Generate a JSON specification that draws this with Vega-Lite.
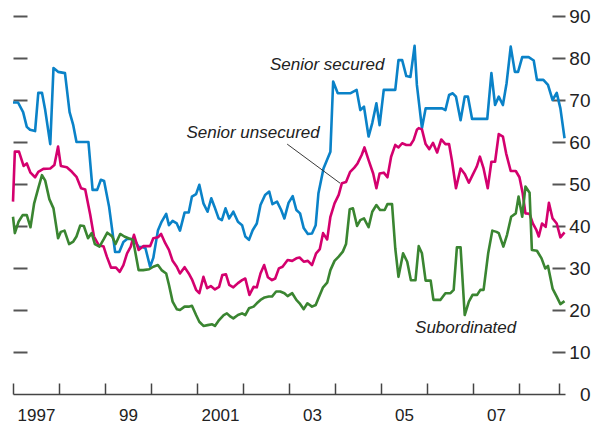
{
  "$schema": "https://vega.github.io/schema/vega-lite/v6.json",
  "width": 552,
  "height": 378,
  "autosize": {"type": "none"},
  "padding": {"left": 13, "top": 16, "right": 31, "bottom": 29},
  "config": {
    "view": {"stroke": null},
    "font": "Liberation Sans, Arial, sans-serif"
  },
  "datasets": {
    "spreads": [
      {"series":"Senior secured","year":1997.00,"value":69.4},
      {"series":"Senior secured","year":1997.11,"value":69.4},
      {"series":"Senior secured","year":1997.22,"value":67.1},
      {"series":"Senior secured","year":1997.30,"value":63.6},
      {"series":"Senior secured","year":1997.37,"value":62.9},
      {"series":"Senior secured","year":1997.48,"value":62.6},
      {"series":"Senior secured","year":1997.55,"value":71.7},
      {"series":"Senior secured","year":1997.63,"value":71.7},
      {"series":"Senior secured","year":1997.70,"value":67.6},
      {"series":"Senior secured","year":1997.81,"value":59.5},
      {"series":"Senior secured","year":1997.88,"value":77.6},
      {"series":"Senior secured","year":1997.98,"value":76.7},
      {"series":"Senior secured","year":1998.13,"value":76.4},
      {"series":"Senior secured","year":1998.23,"value":67.1},
      {"series":"Senior secured","year":1998.31,"value":64.0},
      {"series":"Senior secured","year":1998.38,"value":60.0},
      {"series":"Senior secured","year":1998.64,"value":60.0},
      {"series":"Senior secured","year":1998.73,"value":48.6},
      {"series":"Senior secured","year":1998.83,"value":48.6},
      {"series":"Senior secured","year":1998.91,"value":51.0},
      {"series":"Senior secured","year":1998.98,"value":50.7},
      {"series":"Senior secured","year":1999.09,"value":44.5},
      {"series":"Senior secured","year":1999.22,"value":33.8},
      {"series":"Senior secured","year":1999.31,"value":33.8},
      {"series":"Senior secured","year":1999.40,"value":36.2},
      {"series":"Senior secured","year":1999.48,"value":36.9},
      {"series":"Senior secured","year":1999.63,"value":36.9},
      {"series":"Senior secured","year":1999.73,"value":35.0},
      {"series":"Senior secured","year":1999.82,"value":35.0},
      {"series":"Senior secured","year":1999.88,"value":34.7},
      {"series":"Senior secured","year":1999.98,"value":30.3},
      {"series":"Senior secured","year":2000.05,"value":32.4},
      {"series":"Senior secured","year":2000.15,"value":38.9},
      {"series":"Senior secured","year":2000.23,"value":41.0},
      {"series":"Senior secured","year":2000.33,"value":42.9},
      {"series":"Senior secured","year":2000.39,"value":40.2},
      {"series":"Senior secured","year":2000.47,"value":41.2},
      {"series":"Senior secured","year":2000.56,"value":40.6},
      {"series":"Senior secured","year":2000.63,"value":38.9},
      {"series":"Senior secured","year":2000.73,"value":43.2},
      {"series":"Senior secured","year":2000.82,"value":43.2},
      {"series":"Senior secured","year":2000.89,"value":47.0},
      {"series":"Senior secured","year":2000.98,"value":47.6},
      {"series":"Senior secured","year":2001.05,"value":49.8},
      {"series":"Senior secured","year":2001.14,"value":45.4},
      {"series":"Senior secured","year":2001.23,"value":43.4},
      {"series":"Senior secured","year":2001.31,"value":46.6},
      {"series":"Senior secured","year":2001.38,"value":44.6},
      {"series":"Senior secured","year":2001.47,"value":41.8},
      {"series":"Senior secured","year":2001.54,"value":41.4},
      {"series":"Senior secured","year":2001.62,"value":44.2},
      {"series":"Senior secured","year":2001.70,"value":41.8},
      {"series":"Senior secured","year":2001.79,"value":43.4},
      {"series":"Senior secured","year":2001.89,"value":41.0},
      {"series":"Senior secured","year":2001.98,"value":40.2},
      {"series":"Senior secured","year":2002.05,"value":37.5},
      {"series":"Senior secured","year":2002.13,"value":36.7},
      {"series":"Senior secured","year":2002.21,"value":39.0},
      {"series":"Senior secured","year":2002.30,"value":40.6},
      {"series":"Senior secured","year":2002.38,"value":45.0},
      {"series":"Senior secured","year":2002.48,"value":47.4},
      {"series":"Senior secured","year":2002.57,"value":48.2},
      {"series":"Senior secured","year":2002.64,"value":45.2},
      {"series":"Senior secured","year":2002.74,"value":45.8},
      {"series":"Senior secured","year":2002.83,"value":43.8},
      {"series":"Senior secured","year":2002.90,"value":41.8},
      {"series":"Senior secured","year":2002.99,"value":45.5},
      {"series":"Senior secured","year":2003.08,"value":47.1},
      {"series":"Senior secured","year":2003.16,"value":43.8},
      {"series":"Senior secured","year":2003.24,"value":43.0},
      {"series":"Senior secured","year":2003.32,"value":39.5},
      {"series":"Senior secured","year":2003.41,"value":38.1},
      {"series":"Senior secured","year":2003.50,"value":38.2},
      {"series":"Senior secured","year":2003.58,"value":40.2},
      {"series":"Senior secured","year":2003.64,"value":47.8},
      {"series":"Senior secured","year":2003.75,"value":53.7},
      {"series":"Senior secured","year":2003.90,"value":57.7},
      {"series":"Senior secured","year":2003.96,"value":74.4},
      {"series":"Senior secured","year":2004.06,"value":71.6},
      {"series":"Senior secured","year":2004.33,"value":71.6},
      {"series":"Senior secured","year":2004.47,"value":72.4},
      {"series":"Senior secured","year":2004.55,"value":67.6},
      {"series":"Senior secured","year":2004.63,"value":68.4},
      {"series":"Senior secured","year":2004.73,"value":61.3},
      {"series":"Senior secured","year":2004.81,"value":64.5},
      {"series":"Senior secured","year":2004.90,"value":69.2},
      {"series":"Senior secured","year":2004.97,"value":64.0},
      {"series":"Senior secured","year":2005.06,"value":72.4},
      {"series":"Senior secured","year":2005.31,"value":72.4},
      {"series":"Senior secured","year":2005.38,"value":79.5},
      {"series":"Senior secured","year":2005.46,"value":79.5},
      {"series":"Senior secured","year":2005.55,"value":75.7},
      {"series":"Senior secured","year":2005.64,"value":75.5},
      {"series":"Senior secured","year":2005.73,"value":82.9},
      {"series":"Senior secured","year":2005.78,"value":73.6},
      {"series":"Senior secured","year":2005.89,"value":63.3},
      {"series":"Senior secured","year":2005.97,"value":68.0},
      {"series":"Senior secured","year":2006.33,"value":68.0},
      {"series":"Senior secured","year":2006.40,"value":67.6},
      {"series":"Senior secured","year":2006.48,"value":71.2},
      {"series":"Senior secured","year":2006.56,"value":71.6},
      {"series":"Senior secured","year":2006.63,"value":70.8},
      {"series":"Senior secured","year":2006.73,"value":65.2},
      {"series":"Senior secured","year":2006.82,"value":70.8},
      {"series":"Senior secured","year":2006.89,"value":70.8},
      {"series":"Senior secured","year":2006.98,"value":65.5},
      {"series":"Senior secured","year":2007.31,"value":65.5},
      {"series":"Senior secured","year":2007.40,"value":76.4},
      {"series":"Senior secured","year":2007.48,"value":68.8},
      {"series":"Senior secured","year":2007.56,"value":70.8},
      {"series":"Senior secured","year":2007.65,"value":68.8},
      {"series":"Senior secured","year":2007.73,"value":74.0},
      {"series":"Senior secured","year":2007.82,"value":82.7},
      {"series":"Senior secured","year":2007.91,"value":76.7},
      {"series":"Senior secured","year":2007.98,"value":76.7},
      {"series":"Senior secured","year":2008.07,"value":80.2},
      {"series":"Senior secured","year":2008.21,"value":80.2},
      {"series":"Senior secured","year":2008.32,"value":79.4},
      {"series":"Senior secured","year":2008.39,"value":74.8},
      {"series":"Senior secured","year":2008.53,"value":74.8},
      {"series":"Senior secured","year":2008.63,"value":73.6},
      {"series":"Senior secured","year":2008.73,"value":70.0},
      {"series":"Senior secured","year":2008.82,"value":71.7},
      {"series":"Senior secured","year":2008.90,"value":68.0},
      {"series":"Senior secured","year":2008.99,"value":60.9},

      {"series":"Senior unsecured","year":1997.00,"value":45.8},
      {"series":"Senior unsecured","year":1997.04,"value":57.7},
      {"series":"Senior unsecured","year":1997.13,"value":57.7},
      {"series":"Senior unsecured","year":1997.23,"value":54.3},
      {"series":"Senior unsecured","year":1997.30,"value":54.9},
      {"series":"Senior unsecured","year":1997.38,"value":52.7},
      {"series":"Senior unsecured","year":1997.48,"value":51.6},
      {"series":"Senior unsecured","year":1997.55,"value":52.9},
      {"series":"Senior unsecured","year":1997.66,"value":53.6},
      {"series":"Senior unsecured","year":1997.81,"value":53.7},
      {"series":"Senior unsecured","year":1997.90,"value":54.5},
      {"series":"Senior unsecured","year":1997.98,"value":58.9},
      {"series":"Senior unsecured","year":1998.04,"value":54.3},
      {"series":"Senior unsecured","year":1998.17,"value":54.0},
      {"series":"Senior unsecured","year":1998.28,"value":52.9},
      {"series":"Senior unsecured","year":1998.38,"value":51.7},
      {"series":"Senior unsecured","year":1998.48,"value":49.0},
      {"series":"Senior unsecured","year":1998.57,"value":48.7},
      {"series":"Senior unsecured","year":1998.68,"value":42.6},
      {"series":"Senior unsecured","year":1998.76,"value":37.5},
      {"series":"Senior unsecured","year":1998.86,"value":35.5},
      {"series":"Senior unsecured","year":1998.97,"value":35.1},
      {"series":"Senior unsecured","year":1999.04,"value":32.7},
      {"series":"Senior unsecured","year":1999.13,"value":30.1},
      {"series":"Senior unsecured","year":1999.24,"value":30.1},
      {"series":"Senior unsecured","year":1999.32,"value":29.1},
      {"series":"Senior unsecured","year":1999.40,"value":30.7},
      {"series":"Senior unsecured","year":1999.48,"value":33.5},
      {"series":"Senior unsecured","year":1999.56,"value":35.1},
      {"series":"Senior unsecured","year":1999.63,"value":37.9},
      {"series":"Senior unsecured","year":1999.73,"value":34.3},
      {"series":"Senior unsecured","year":1999.83,"value":35.2},
      {"series":"Senior unsecured","year":1999.98,"value":35.2},
      {"series":"Senior unsecured","year":2000.05,"value":37.1},
      {"series":"Senior unsecured","year":2000.15,"value":37.3},
      {"series":"Senior unsecured","year":2000.22,"value":38.1},
      {"series":"Senior unsecured","year":2000.31,"value":35.9},
      {"series":"Senior unsecured","year":2000.39,"value":34.3},
      {"series":"Senior unsecured","year":2000.47,"value":31.7},
      {"series":"Senior unsecured","year":2000.56,"value":30.3},
      {"series":"Senior unsecured","year":2000.63,"value":28.7},
      {"series":"Senior unsecured","year":2000.73,"value":30.2},
      {"series":"Senior unsecured","year":2000.82,"value":28.7},
      {"series":"Senior unsecured","year":2000.89,"value":27.3},
      {"series":"Senior unsecured","year":2000.98,"value":24.8},
      {"series":"Senior unsecured","year":2001.05,"value":24.0},
      {"series":"Senior unsecured","year":2001.14,"value":27.9},
      {"series":"Senior unsecured","year":2001.22,"value":25.2},
      {"series":"Senior unsecured","year":2001.30,"value":25.7},
      {"series":"Senior unsecured","year":2001.39,"value":24.9},
      {"series":"Senior unsecured","year":2001.48,"value":25.5},
      {"series":"Senior unsecured","year":2001.55,"value":28.3},
      {"series":"Senior unsecured","year":2001.63,"value":28.5},
      {"series":"Senior unsecured","year":2001.70,"value":26.0},
      {"series":"Senior unsecured","year":2001.79,"value":25.4},
      {"series":"Senior unsecured","year":2001.89,"value":26.4},
      {"series":"Senior unsecured","year":2001.98,"value":27.1},
      {"series":"Senior unsecured","year":2002.05,"value":27.5},
      {"series":"Senior unsecured","year":2002.14,"value":23.6},
      {"series":"Senior unsecured","year":2002.23,"value":25.5},
      {"series":"Senior unsecured","year":2002.30,"value":25.4},
      {"series":"Senior unsecured","year":2002.38,"value":28.7},
      {"series":"Senior unsecured","year":2002.46,"value":30.7},
      {"series":"Senior unsecured","year":2002.54,"value":27.8},
      {"series":"Senior unsecured","year":2002.63,"value":27.1},
      {"series":"Senior unsecured","year":2002.70,"value":27.5},
      {"series":"Senior unsecured","year":2002.78,"value":29.9},
      {"series":"Senior unsecured","year":2002.86,"value":30.3},
      {"series":"Senior unsecured","year":2002.97,"value":31.9},
      {"series":"Senior unsecured","year":2003.07,"value":31.7},
      {"series":"Senior unsecured","year":2003.16,"value":32.3},
      {"series":"Senior unsecured","year":2003.23,"value":32.5},
      {"series":"Senior unsecured","year":2003.32,"value":31.5},
      {"series":"Senior unsecured","year":2003.41,"value":31.7},
      {"series":"Senior unsecured","year":2003.50,"value":30.7},
      {"series":"Senior unsecured","year":2003.59,"value":33.5},
      {"series":"Senior unsecured","year":2003.67,"value":34.5},
      {"series":"Senior unsecured","year":2003.74,"value":38.3},
      {"series":"Senior unsecured","year":2003.83,"value":36.8},
      {"series":"Senior unsecured","year":2003.90,"value":42.2},
      {"series":"Senior unsecured","year":2003.99,"value":45.4},
      {"series":"Senior unsecured","year":2004.08,"value":47.4},
      {"series":"Senior unsecured","year":2004.15,"value":50.2},
      {"series":"Senior unsecured","year":2004.24,"value":50.5},
      {"series":"Senior unsecured","year":2004.33,"value":52.9},
      {"series":"Senior unsecured","year":2004.42,"value":53.9},
      {"series":"Senior unsecured","year":2004.49,"value":54.9},
      {"series":"Senior unsecured","year":2004.58,"value":56.9},
      {"series":"Senior unsecured","year":2004.64,"value":58.7},
      {"series":"Senior unsecured","year":2004.73,"value":55.7},
      {"series":"Senior unsecured","year":2004.83,"value":52.5},
      {"series":"Senior unsecured","year":2004.90,"value":49.0},
      {"series":"Senior unsecured","year":2004.97,"value":52.5},
      {"series":"Senior unsecured","year":2005.06,"value":52.7},
      {"series":"Senior unsecured","year":2005.14,"value":51.6},
      {"series":"Senior unsecured","year":2005.22,"value":56.5},
      {"series":"Senior unsecured","year":2005.31,"value":59.3},
      {"series":"Senior unsecured","year":2005.38,"value":58.7},
      {"series":"Senior unsecured","year":2005.46,"value":59.7},
      {"series":"Senior unsecured","year":2005.55,"value":59.3},
      {"series":"Senior unsecured","year":2005.64,"value":59.3},
      {"series":"Senior unsecured","year":2005.71,"value":60.5},
      {"series":"Senior unsecured","year":2005.78,"value":62.9},
      {"series":"Senior unsecured","year":2005.82,"value":63.3},
      {"series":"Senior unsecured","year":2005.89,"value":63.0},
      {"series":"Senior unsecured","year":2005.97,"value":59.5},
      {"series":"Senior unsecured","year":2006.05,"value":58.3},
      {"series":"Senior unsecured","year":2006.13,"value":59.8},
      {"series":"Senior unsecured","year":2006.22,"value":57.5},
      {"series":"Senior unsecured","year":2006.31,"value":60.6},
      {"series":"Senior unsecured","year":2006.40,"value":59.5},
      {"series":"Senior unsecured","year":2006.48,"value":59.5},
      {"series":"Senior unsecured","year":2006.54,"value":55.7},
      {"series":"Senior unsecured","year":2006.63,"value":49.0},
      {"series":"Senior unsecured","year":2006.73,"value":53.7},
      {"series":"Senior unsecured","year":2006.82,"value":52.4},
      {"series":"Senior unsecured","year":2006.91,"value":50.3},
      {"series":"Senior unsecured","year":2006.99,"value":52.1},
      {"series":"Senior unsecured","year":2007.08,"value":54.1},
      {"series":"Senior unsecured","year":2007.15,"value":56.5},
      {"series":"Senior unsecured","year":2007.23,"value":53.7},
      {"series":"Senior unsecured","year":2007.32,"value":49.0},
      {"series":"Senior unsecured","year":2007.40,"value":55.3},
      {"series":"Senior unsecured","year":2007.48,"value":55.3},
      {"series":"Senior unsecured","year":2007.56,"value":61.9},
      {"series":"Senior unsecured","year":2007.65,"value":61.3},
      {"series":"Senior unsecured","year":2007.72,"value":57.3},
      {"series":"Senior unsecured","year":2007.82,"value":53.1},
      {"series":"Senior unsecured","year":2007.93,"value":53.1},
      {"series":"Senior unsecured","year":2008.01,"value":51.6},
      {"series":"Senior unsecured","year":2008.08,"value":47.8},
      {"series":"Senior unsecured","year":2008.14,"value":43.0},
      {"series":"Senior unsecured","year":2008.23,"value":42.9},
      {"series":"Senior unsecured","year":2008.30,"value":40.6},
      {"series":"Senior unsecured","year":2008.38,"value":39.0},
      {"series":"Senior unsecured","year":2008.43,"value":37.5},
      {"series":"Senior unsecured","year":2008.50,"value":40.6},
      {"series":"Senior unsecured","year":2008.58,"value":39.8},
      {"series":"Senior unsecured","year":2008.65,"value":45.5},
      {"series":"Senior unsecured","year":2008.73,"value":41.8},
      {"series":"Senior unsecured","year":2008.82,"value":40.6},
      {"series":"Senior unsecured","year":2008.90,"value":37.3},
      {"series":"Senior unsecured","year":2008.99,"value":38.5},

      {"series":"Subordinated","year":1997.00,"value":42.2},
      {"series":"Subordinated","year":1997.04,"value":38.3},
      {"series":"Subordinated","year":1997.12,"value":41.0},
      {"series":"Subordinated","year":1997.21,"value":42.6},
      {"series":"Subordinated","year":1997.30,"value":42.6},
      {"series":"Subordinated","year":1997.38,"value":39.7},
      {"series":"Subordinated","year":1997.46,"value":45.4},
      {"series":"Subordinated","year":1997.55,"value":49.0},
      {"series":"Subordinated","year":1997.63,"value":52.1},
      {"series":"Subordinated","year":1997.70,"value":50.8},
      {"series":"Subordinated","year":1997.79,"value":46.4},
      {"series":"Subordinated","year":1997.88,"value":44.2},
      {"series":"Subordinated","year":1997.98,"value":37.1},
      {"series":"Subordinated","year":1998.04,"value":38.6},
      {"series":"Subordinated","year":1998.12,"value":38.9},
      {"series":"Subordinated","year":1998.22,"value":35.7},
      {"series":"Subordinated","year":1998.31,"value":36.3},
      {"series":"Subordinated","year":1998.38,"value":37.5},
      {"series":"Subordinated","year":1998.46,"value":40.1},
      {"series":"Subordinated","year":1998.54,"value":40.0},
      {"series":"Subordinated","year":1998.63,"value":37.1},
      {"series":"Subordinated","year":1998.71,"value":38.3},
      {"series":"Subordinated","year":1998.78,"value":35.7},
      {"series":"Subordinated","year":1998.88,"value":35.1},
      {"series":"Subordinated","year":1998.97,"value":36.8},
      {"series":"Subordinated","year":1999.05,"value":38.4},
      {"series":"Subordinated","year":1999.15,"value":37.6},
      {"series":"Subordinated","year":1999.23,"value":35.7},
      {"series":"Subordinated","year":1999.33,"value":38.1},
      {"series":"Subordinated","year":1999.42,"value":37.5},
      {"series":"Subordinated","year":1999.51,"value":37.1},
      {"series":"Subordinated","year":1999.61,"value":36.7},
      {"series":"Subordinated","year":1999.73,"value":29.5},
      {"series":"Subordinated","year":1999.83,"value":29.5},
      {"series":"Subordinated","year":1999.96,"value":29.7},
      {"series":"Subordinated","year":2000.05,"value":30.3},
      {"series":"Subordinated","year":2000.15,"value":30.7},
      {"series":"Subordinated","year":2000.23,"value":29.5},
      {"series":"Subordinated","year":2000.33,"value":28.7},
      {"series":"Subordinated","year":2000.39,"value":26.0},
      {"series":"Subordinated","year":2000.47,"value":22.0},
      {"series":"Subordinated","year":2000.56,"value":20.2},
      {"series":"Subordinated","year":2000.63,"value":20.0},
      {"series":"Subordinated","year":2000.73,"value":20.8},
      {"series":"Subordinated","year":2000.82,"value":20.8},
      {"series":"Subordinated","year":2000.89,"value":21.0},
      {"series":"Subordinated","year":2000.98,"value":18.8},
      {"series":"Subordinated","year":2001.05,"value":17.2},
      {"series":"Subordinated","year":2001.14,"value":16.2},
      {"series":"Subordinated","year":2001.23,"value":16.4},
      {"series":"Subordinated","year":2001.33,"value":16.6},
      {"series":"Subordinated","year":2001.39,"value":16.2},
      {"series":"Subordinated","year":2001.48,"value":17.6},
      {"series":"Subordinated","year":2001.58,"value":18.8},
      {"series":"Subordinated","year":2001.65,"value":19.2},
      {"series":"Subordinated","year":2001.73,"value":18.4},
      {"series":"Subordinated","year":2001.79,"value":18.0},
      {"series":"Subordinated","year":2001.89,"value":18.8},
      {"series":"Subordinated","year":2001.98,"value":19.2},
      {"series":"Subordinated","year":2002.05,"value":18.8},
      {"series":"Subordinated","year":2002.13,"value":20.4},
      {"series":"Subordinated","year":2002.23,"value":20.8},
      {"series":"Subordinated","year":2002.30,"value":21.6},
      {"series":"Subordinated","year":2002.38,"value":22.4},
      {"series":"Subordinated","year":2002.47,"value":23.0},
      {"series":"Subordinated","year":2002.56,"value":23.2},
      {"series":"Subordinated","year":2002.63,"value":23.2},
      {"series":"Subordinated","year":2002.72,"value":24.4},
      {"series":"Subordinated","year":2002.81,"value":24.4},
      {"series":"Subordinated","year":2002.90,"value":24.0},
      {"series":"Subordinated","year":2002.97,"value":23.3},
      {"series":"Subordinated","year":2003.07,"value":24.0},
      {"series":"Subordinated","year":2003.16,"value":22.4},
      {"series":"Subordinated","year":2003.23,"value":21.6},
      {"series":"Subordinated","year":2003.32,"value":20.2},
      {"series":"Subordinated","year":2003.40,"value":21.6},
      {"series":"Subordinated","year":2003.50,"value":20.8},
      {"series":"Subordinated","year":2003.58,"value":21.2},
      {"series":"Subordinated","year":2003.64,"value":22.8},
      {"series":"Subordinated","year":2003.74,"value":25.4},
      {"series":"Subordinated","year":2003.83,"value":26.5},
      {"series":"Subordinated","year":2003.90,"value":29.5},
      {"series":"Subordinated","year":2003.99,"value":31.7},
      {"series":"Subordinated","year":2004.08,"value":32.7},
      {"series":"Subordinated","year":2004.17,"value":33.9},
      {"series":"Subordinated","year":2004.24,"value":35.7},
      {"series":"Subordinated","year":2004.32,"value":44.0},
      {"series":"Subordinated","year":2004.39,"value":44.2},
      {"series":"Subordinated","year":2004.48,"value":40.0},
      {"series":"Subordinated","year":2004.55,"value":41.4},
      {"series":"Subordinated","year":2004.63,"value":41.8},
      {"series":"Subordinated","year":2004.73,"value":39.7},
      {"series":"Subordinated","year":2004.81,"value":43.4},
      {"series":"Subordinated","year":2004.90,"value":45.0},
      {"series":"Subordinated","year":2004.98,"value":43.8},
      {"series":"Subordinated","year":2005.08,"value":43.8},
      {"series":"Subordinated","year":2005.14,"value":45.2},
      {"series":"Subordinated","year":2005.24,"value":45.2},
      {"series":"Subordinated","year":2005.31,"value":34.7},
      {"series":"Subordinated","year":2005.38,"value":27.9},
      {"series":"Subordinated","year":2005.48,"value":33.5},
      {"series":"Subordinated","year":2005.57,"value":31.5},
      {"series":"Subordinated","year":2005.65,"value":27.1},
      {"series":"Subordinated","year":2005.75,"value":27.1},
      {"series":"Subordinated","year":2005.82,"value":35.2},
      {"series":"Subordinated","year":2005.89,"value":33.5},
      {"series":"Subordinated","year":2005.97,"value":27.0},
      {"series":"Subordinated","year":2006.08,"value":27.0},
      {"series":"Subordinated","year":2006.14,"value":22.4},
      {"series":"Subordinated","year":2006.29,"value":22.4},
      {"series":"Subordinated","year":2006.40,"value":24.0},
      {"series":"Subordinated","year":2006.51,"value":24.0},
      {"series":"Subordinated","year":2006.58,"value":24.8},
      {"series":"Subordinated","year":2006.65,"value":34.9},
      {"series":"Subordinated","year":2006.73,"value":34.9},
      {"series":"Subordinated","year":2006.82,"value":18.8},
      {"series":"Subordinated","year":2006.91,"value":22.0},
      {"series":"Subordinated","year":2006.99,"value":23.6},
      {"series":"Subordinated","year":2007.09,"value":23.6},
      {"series":"Subordinated","year":2007.16,"value":24.8},
      {"series":"Subordinated","year":2007.23,"value":24.8},
      {"series":"Subordinated","year":2007.33,"value":33.5},
      {"series":"Subordinated","year":2007.42,"value":38.9},
      {"series":"Subordinated","year":2007.51,"value":38.6},
      {"series":"Subordinated","year":2007.56,"value":38.3},
      {"series":"Subordinated","year":2007.66,"value":35.1},
      {"series":"Subordinated","year":2007.74,"value":37.9},
      {"series":"Subordinated","year":2007.83,"value":42.2},
      {"series":"Subordinated","year":2007.93,"value":43.0},
      {"series":"Subordinated","year":2007.99,"value":47.0},
      {"series":"Subordinated","year":2008.07,"value":42.2},
      {"series":"Subordinated","year":2008.14,"value":49.4},
      {"series":"Subordinated","year":2008.23,"value":47.9},
      {"series":"Subordinated","year":2008.28,"value":34.3},
      {"series":"Subordinated","year":2008.39,"value":34.1},
      {"series":"Subordinated","year":2008.49,"value":32.3},
      {"series":"Subordinated","year":2008.57,"value":29.9},
      {"series":"Subordinated","year":2008.63,"value":30.5},
      {"series":"Subordinated","year":2008.73,"value":25.1},
      {"series":"Subordinated","year":2008.82,"value":23.2},
      {"series":"Subordinated","year":2008.90,"value":21.4},
      {"series":"Subordinated","year":2008.99,"value":22.1}
    ],
    "labels": [
      {"label":"Senior secured","year":2003.83,"value":78.3},
      {"label":"Senior unsecured","year":2002.22,"value":62.1},
      {"label":"Subordinated","year":2006.84,"value":15.7}
    ],
    "leader": [
      {"year":2002.96,"value":59.5,"year2":2004.11,"value2":50.2}
    ]
  },
  "layer": [
    {
      "data": {"name": "spreads"},
      "mark": {"type": "line", "strokeWidth": 2.6, "strokeJoin": "round"},
      "encoding": {
        "x": {
          "field": "year", "type": "quantitative",
          "scale": {"domain": [1997, 2009], "nice": false, "zero": false},
          "axis": {
            "orient": "bottom", "title": null,
            "values": [1997,1998,1999,2000,2001,2002,2003,2004,2005,2006,2007,2008,2008.88],
            "tickSize": -11, "tickColor": "#444", "tickWidth": 1.5,
            "domainColor": "#444", "domainWidth": 1.5,
            "labelExpr": "datum.value == 1997 ? '1997' : datum.value == 1999 ? '99' : datum.value == 2001 ? '2001' : datum.value == 2003 ? '03' : datum.value == 2005 ? '05' : datum.value == 2007 ? '07' : ''",
            "labelOffset": 23, "labelAlign": "center", "labelFontSize": 17, "labelColor": "#222",
            "labelPadding": 24, "labelOverlap": false, "labelBound": false, "labelFlush": false, "grid": false
          }
        },
        "y": {
          "field": "value", "type": "quantitative",
          "scale": {"domain": [0, 90], "nice": false},
          "axis": {
            "orient": "left", "title": null,
            "values": [10,20,30,40,50,60,70,80,90],
            "labels": false, "domain": false, "grid": false,
            "tickSize": -14, "tickColor": "#555", "tickWidth": 2
          }
        },
        "color": {
          "field": "series", "type": "nominal",
          "scale": {
            "domain": ["Senior unsecured", "Senior secured", "Subordinated"],
            "range": ["#d4006e", "#0a82c8", "#3a8531"]
          },
          "legend": null
        }
      }
    },
    {
      "data": {"name": "labels"},
      "mark": {"type": "text", "fontStyle": "italic", "fontSize": 17, "color": "#222", "align": "center", "baseline": "middle"},
      "encoding": {
        "x": {"field": "year", "type": "quantitative", "axis": null},
        "y": {
          "field": "value", "type": "quantitative",
          "axis": {
            "orient": "right", "title": null,
            "values": [0,10,20,30,40,50,60,70,80,90],
            "domain": false, "grid": false,
            "tickSize": -13, "tickColor": "#555", "tickWidth": 2,
            "tickOpacity": {"condition": {"test": "datum.value == 0", "value": 0}, "value": 1},
            "labelAlign": "right", "labelPadding": 38, "labelFontSize": 19, "labelColor": "#222",
            "labelBaseline": "middle", "labelFlush": false, "labelOverlap": false, "labelBound": false
          }
        },
        "text": {"field": "label"}
      }
    },
    {
      "data": {"name": "leader"},
      "mark": {"type": "rule", "color": "#222", "strokeWidth": 0.9},
      "encoding": {
        "x": {"field": "year", "type": "quantitative", "axis": null},
        "x2": {"field": "year2"},
        "y": {"field": "value", "type": "quantitative", "axis": null},
        "y2": {"field": "value2"}
      }
    }
  ],
  "resolve": {"axis": {"x": "independent", "y": "independent"}}
}
